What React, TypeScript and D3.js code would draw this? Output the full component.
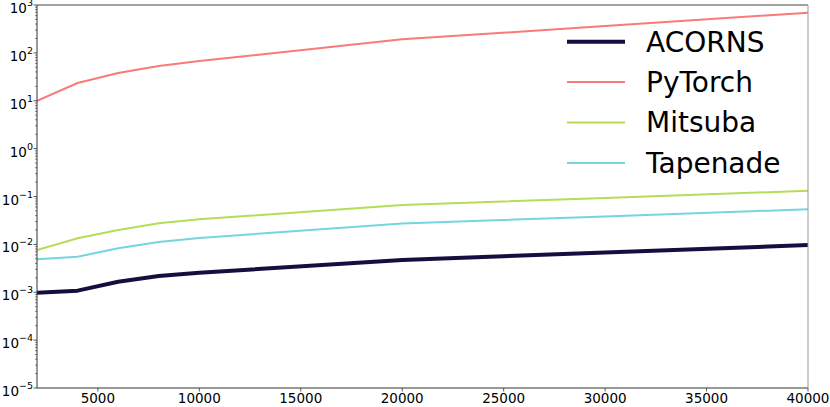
import React from "react";
import * as d3 from "d3";

const sizes = [2000, 4000, 6000, 8000, 10000, 20000, 30000, 40000];
const acorns = [0.00098, 0.00108, 0.00166, 0.00218, 0.00256, 0.00472, 0.00676, 0.0097];
const pytorch = [10, 23.5, 38, 53, 67.6, 192, 364, 690];
const mitsuba = [0.00763, 0.0134, 0.02, 0.0275, 0.0334, 0.0664, 0.093, 0.132];
const tapenade = [0.00488, 0.00553, 0.00828, 0.0112, 0.0136, 0.0273, 0.0382, 0.054];
const seriesNames = ["ACORNS", "PyTorch", "Mitsuba", "Tapenade"];
const xTicks = [5000, 10000, 15000, 20000, 25000, 30000, 35000, 40000];
const yExponents = [3, 2, 1, 0, -1, -2, -3, -4, -5];

const W = 830, H = 407;
const L = 37, R = 808, T = 5, B = 388;
const font = "DejaVu Sans, sans-serif";

export default function App() {
  const x = d3.scaleLinear().domain([2000, 40000]).range([L, R]);
  const y = d3.scaleLog().domain([1e-5, 1e3]).range([B, T]);
  const series = [
    { name: seriesNames[0], data: acorns, color: "#150f3f", width: 4 },
    { name: seriesNames[1], data: pytorch, color: "#fa7a78", width: 2 },
    { name: seriesNames[2], data: mitsuba, color: "#b6dc58", width: 2 },
    { name: seriesNames[3], data: tapenade, color: "#74d6dc", width: 2 },
  ];
  const line = d3.line<number>().x((_, i) => x(sizes[i])).y((d) => y(d));
  const minor: number[] = [];
  for (let e = -5; e < 3; e++) for (let m = 2; m <= 9; m++) minor.push(m * Math.pow(10, e));
  const fmt = (e: number) => (e < 0 ? "\u2212" + Math.abs(e) : String(e));
  const drawOrder = [1, 2, 3, 0];
  return (
    <svg width={W} height={H} style={{ position: "absolute", left: 0, top: 0, background: "#fff" }}>
      <defs>
        <clipPath id="plot">
          <rect x={L} y={T} width={R - L} height={B - T} />
        </clipPath>
      </defs>
      <g clipPath="url(#plot)">
        {drawOrder.map((k) => (
          <path key={series[k].name} d={line(series[k].data) || ""} fill="none" stroke={series[k].color}
            strokeWidth={series[k].width} strokeLinejoin="round" strokeLinecap="butt" />
        ))}
      </g>
      {/* spines */}
      <line x1={L} x2={L} y1={T} y2={B} stroke="#333" strokeWidth={1} />
      <line x1={L} x2={R} y1={B} y2={B} stroke="#333" strokeWidth={1} />
      <line x1={L} x2={R} y1={T} y2={T} stroke="#444" strokeWidth={1} />
      <line x1={R} x2={R} y1={T} y2={B} stroke="#999" strokeWidth={1} />
      {/* y minor ticks */}
      {minor.map((v) => (
        <line key={"m" + v} x1={L - 2} x2={L} y1={y(v)} y2={y(v)} stroke="#333" strokeWidth={0.6} />
      ))}
      {/* y major ticks */}
      {yExponents.map((e) => {
        const yy = y(Math.pow(10, e));
        return (
          <g key={"y" + e}>
            <line x1={L - 3.5} x2={L} y1={yy} y2={yy} stroke="#333" strokeWidth={0.8} />
            <text x={33} y={yy + 8} textAnchor="end" fontFamily={font} fontSize={13.5} fill="#000">
              10<tspan fontSize={9.5} dy={-7}>{fmt(e)}</tspan>
            </text>
          </g>
        );
      })}
      {/* x ticks */}
      {xTicks.map((t) => (
        <g key={"x" + t}>
          <line x1={x(t)} x2={x(t)} y1={B} y2={B + 3.5} stroke="#333" strokeWidth={0.8} />
          <text x={x(t)} y={403} textAnchor="middle" fontFamily={font} fontSize={13.5} fill="#000">
            {t}
          </text>
        </g>
      ))}
      {/* legend */}
      {series.map((s, i) => (
        <g key={"lg" + s.name}>
          <line x1={567} x2={625} y1={41.7 + i * 40.4} y2={41.7 + i * 40.4} stroke={s.color} strokeWidth={s.width} />
          <text x={646} y={52 + i * 40.2} fontFamily={font} fontSize={28} fill="#000">
            {s.name}
          </text>
        </g>
      ))}
    </svg>
  );
}
